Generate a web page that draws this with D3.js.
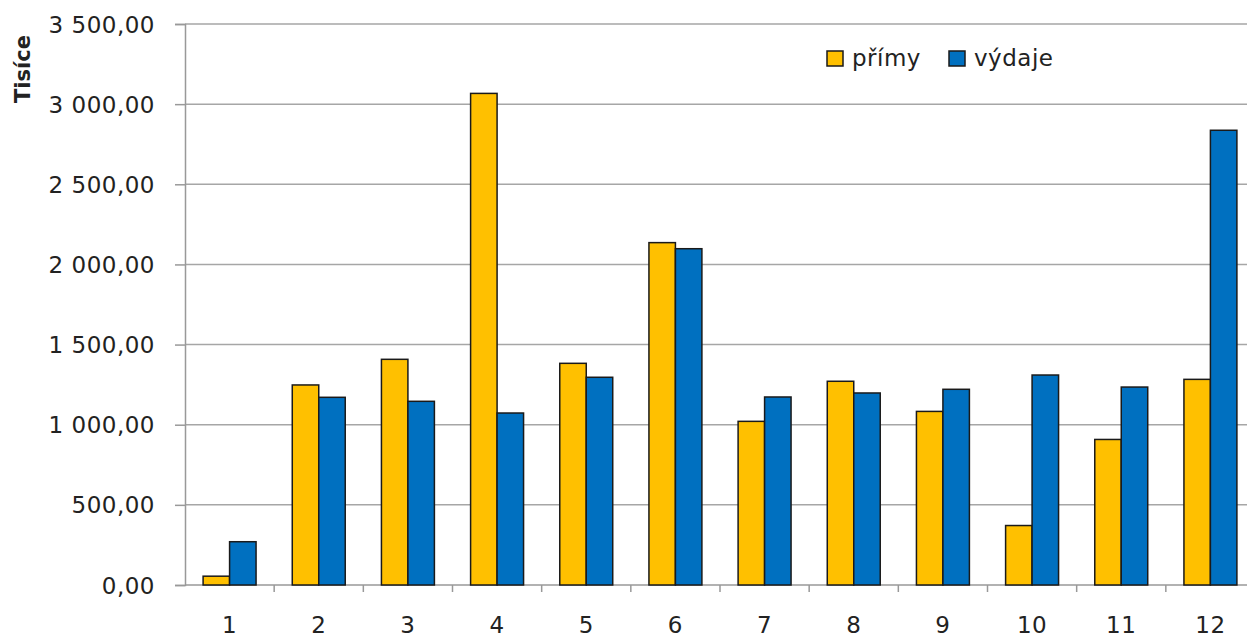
<!DOCTYPE html>
<html>
<head>
<meta charset="utf-8">
<script src="https://cdn.jsdelivr.net/npm/d3@7"></script>
<style>
  body { margin: 0; background: #fff; }
  svg text { font-family: "DejaVu Sans", sans-serif; fill: #222; }
</style>
</head>
<body>
<svg id="chart" width="1247" height="639"></svg>
<script>
// ----------- DATA -----------
const categories = ["1", "2", "3", "4", "5", "6", "7", "8", "9", "10", "11", "12"];
const series = ["přímy", "výdaje"];
const primy  = [55, 1248, 1408, 3067, 1383, 2136, 1021, 1271, 1083, 371, 908, 1283];
const vydaje = [270, 1171, 1146, 1073, 1296, 2098, 1173, 1198, 1221, 1310, 1235, 2837];
const yTicks = [0, 500, 1000, 1500, 2000, 2500, 3000, 3500];
const colors = ["#FFC000", "#0070C0"];

// ----------- CHART -----------
const svg = d3.select("#chart");
const plotLeft = 185, plotRight = 1255, plotTop = 24, plotBottom = 585;

const x0 = d3.scaleBand()
  .domain(categories)
  .range([plotLeft, plotRight])
  .paddingInner(0.406)
  .paddingOuter(0.203);

const x1 = d3.scaleBand()
  .domain(series)
  .range([0, x0.bandwidth()]);

const y = d3.scaleLinear().domain([0, 3500]).range([plotBottom, plotTop]);

const fmt = v => d3.format(",.2f")(v).replace(",", " ").replace(".", ",");

// gridlines
svg.append("g")
  .selectAll("line")
  .data(yTicks.filter(t => t > 0))
  .enter()
  .append("line")
  .attr("x1", plotLeft)
  .attr("x2", 1247)
  .attr("y1", d => y(d))
  .attr("y2", d => y(d))
  .attr("stroke", "#a6a6a6")
  .attr("stroke-width", 1.5);

// y axis
const yAxis = svg.append("g")
  .attr("transform", `translate(${plotLeft},0)`)
  .call(d3.axisLeft(y).tickValues(yTicks).tickSize(10).tickPadding(20).tickFormat(fmt));
yAxis.select(".domain").attr("stroke", "#999").attr("stroke-width", 1.5);
yAxis.selectAll(".tick line").attr("stroke", "#999").attr("stroke-width", 1.5);
yAxis.selectAll(".tick text")
  .attr("font-size", 23)
  .attr("letter-spacing", "0.5px")
  .attr("font-family", "DejaVu Sans")
  .attr("fill", "#2a2a2a")
  .attr("dy", "0.35em");

// x axis
const xAxis = svg.append("g")
  .attr("transform", `translate(0,${plotBottom})`)
  .call(d3.axisBottom(x0).tickSize(0).tickPadding(31));
xAxis.select(".domain").remove();
xAxis.append("line")
  .attr("x1", plotLeft).attr("x2", 1247)
  .attr("stroke", "#999").attr("stroke-width", 1.5);
xAxis.selectAll(".tick text")
  .attr("font-size", 23)
  .attr("letter-spacing", "0.5px")
  .attr("font-family", "DejaVu Sans")
  .attr("fill", "#2a2a2a")
  .attr("dy", "0.75em");

// tick marks between categories
const gap = x0.step() - x0.bandwidth();
svg.append("g")
  .selectAll("line")
  .data(categories.slice(1))
  .enter()
  .append("line")
  .attr("x1", d => x0(d) - gap / 2)
  .attr("x2", d => x0(d) - gap / 2)
  .attr("y1", plotBottom)
  .attr("y2", plotBottom + 7)
  .attr("stroke", "#999")
  .attr("stroke-width", 1.5);

// bars
const rows = categories.map((c, i) => ({ cat: c, values: [primy[i], vydaje[i]] }));

const groups = svg.append("g")
  .selectAll("g")
  .data(rows)
  .enter()
  .append("g")
  .attr("transform", d => `translate(${x0(d.cat)},0)`);

groups.selectAll("rect")
  .data(d => d.values.map((v, j) => ({ key: series[j], value: v, j: j })))
  .enter()
  .append("rect")
  .attr("x", d => x1(d.key))
  .attr("width", x1.bandwidth())
  .attr("y", d => y(d.value))
  .attr("height", d => plotBottom - y(d.value))
  .attr("fill", d => colors[d.j])
  .attr("stroke", "#1a1a1a")
  .attr("stroke-width", 1.5);

// y label
svg.append("text")
  .attr("transform", "translate(30,69) rotate(-90)")
  .attr("text-anchor", "middle")
  .attr("font-size", 21)
  .attr("font-weight", "bold")
  .text("Tisíce");

// legend
const legend = svg.append("g").attr("transform", "translate(827,51)");
const legX = [0, 122];
series.forEach((s, i) => {
  legend.append("rect")
    .attr("x", legX[i]).attr("y", 0)
    .attr("width", 16).attr("height", 15)
    .attr("fill", colors[i])
    .attr("stroke", "#1a1a1a")
    .attr("stroke-width", 1.5);
  legend.append("text")
    .attr("x", legX[i] + 25)
    .attr("y", 15)
    .attr("font-size", 23)
    .attr("letter-spacing", "0.5px")
    .text(s);
});
</script>
</body>
</html>
